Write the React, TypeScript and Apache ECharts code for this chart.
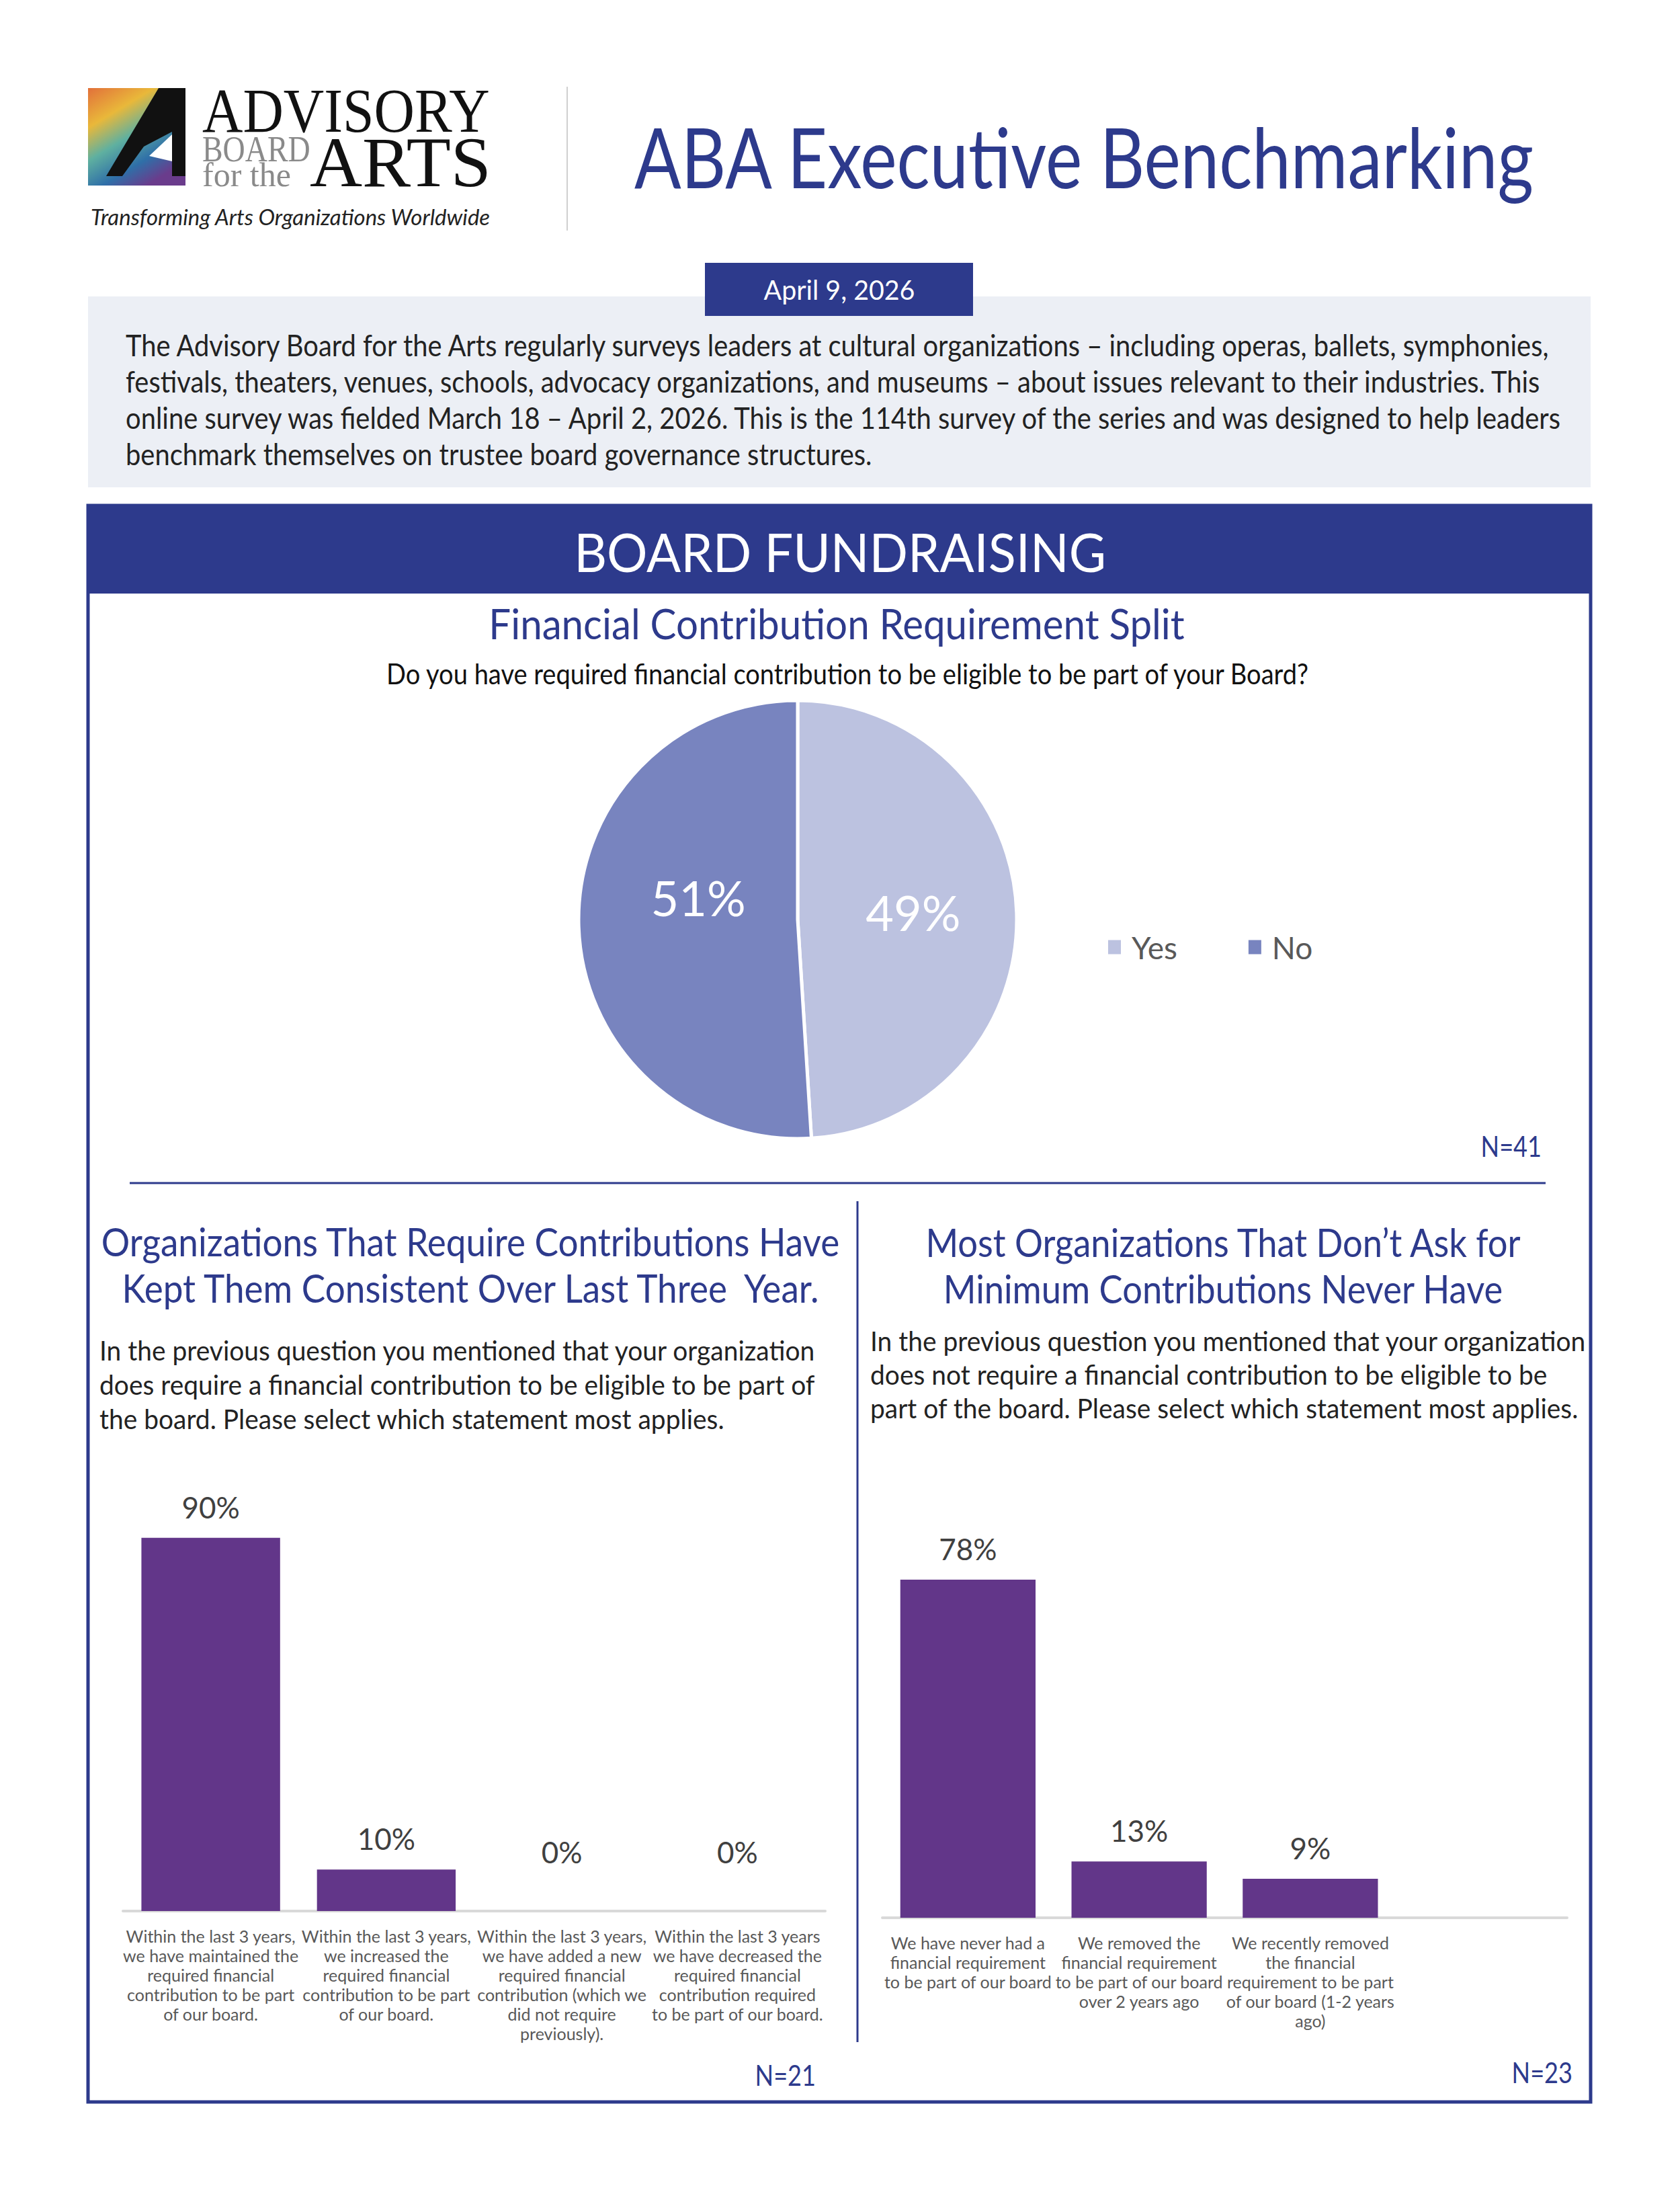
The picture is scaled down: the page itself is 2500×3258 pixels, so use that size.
import React, { useEffect, useRef } from "react";
import * as echarts from "echarts";

// ---------- data ----------
const pieCategories = ["Yes", "No"];
const pieValues = [49, 51];

const leftCategories = [
  "Within the last 3 years,\nwe have maintained the\nrequired financial\ncontribution to be part\nof our board.",
  "Within the last 3 years,\nwe increased the\nrequired financial\ncontribution to be part\nof our board.",
  "Within the last 3 years,\nwe have added a new\nrequired financial\ncontribution (which we\ndid not require\npreviously).",
  "Within the last 3 years\nwe have decreased the\nrequired financial\ncontribution required\nto be part of our board.",
];
const leftValues = [90, 10, 0, 0];

const rightCategories = [
  "We have never had a\nfinancial requirement\nto be part of our board",
  "We removed the\nfinancial requirement\nto be part of our board\nover 2 years ago",
  "We recently removed\nthe financial\nrequirement to be part\nof our board (1-2 years\nago)",
  "",
];
const rightValues: (number | null)[] = [78, 13, 9, null];

const introLines = [
  "The Advisory Board for the Arts regularly surveys leaders at cultural organizations \u2013 including operas, ballets, symphonies,",
  "festivals, theaters, venues, schools, advocacy organizations, and museums \u2013 about issues relevant to their industries. This",
  "online survey was fielded March 18 \u2013 April 2, 2026. This is the 114th survey of the series and was designed to help leaders",
  "benchmark themselves on trustee board governance structures.",
];
const leftTitleLines = [
  "Organizations That Require Contributions Have",
  "Kept Them Consistent Over Last Three  Year.",
];
const rightTitleLines = [
  "Most Organizations That Don\u2019t Ask for",
  "Minimum Contributions Never Have",
];
const leftQuestionLines = [
  "In the previous question you mentioned that your organization",
  "does require a financial contribution to be eligible to be part of",
  "the board. Please select which statement most applies.",
];
const rightQuestionLines = [
  "In the previous question you mentioned that your organization",
  "does not require a financial contribution to be eligible to be",
  "part of the board. Please select which statement most applies.",
];
const pageTitle = "ABA Executive Benchmarking";
const dateText = "April 9, 2026";
const sectionTitle = "BOARD FUNDRAISING";
const pieTitle = "Financial Contribution Requirement Split";
const pieQuestion = "Do you have required financial contribution to be eligible to be part of your Board?";
const nPie = "N=41";
const nLeft = "N=21";
const nRight = "N=23";

// ---------- styles ----------
const NAVY = "#2d3a8c";
const PURPLE = "#623689";
const FONT = "Lato, 'Noto Sans', sans-serif";
const SERIF = "'Liberation Serif', 'DejaVu Serif', serif";
const SX = 0.86;

function txt(
  text: string,
  x: number,
  y: number,
  size: number,
  fill: string,
  o: any = {}
) {
  const align = o.align ?? "left";
  return {
    type: "text",
    x,
    y,
    scaleX: o.sx ?? SX,
    silent: true,
    z: 10,
    style: {
      text,
      fill,
      fontSize: size,
      fontFamily: o.family ?? FONT,
      fontWeight: o.weight ?? "normal",
      fontStyle: o.style ?? "normal",
      align,
      textAlign: align,
      verticalAlign: "middle",
      textVerticalAlign: "middle",
    },
  };
}

function buildOption(): any {
  const graphics: any[] = [];

  // ----- logo -----
  graphics.push({
    type: "rect",
    shape: { x: 131, y: 131, width: 145, height: 145 },
    style: {
      fill: new echarts.graphic.LinearGradient(0, 0, 0.6, 1, [
        { offset: 0, color: "#e2703a" },
        { offset: 0.3, color: "#e9b83a" },
        { offset: 0.55, color: "#5fb0a0" },
        { offset: 0.8, color: "#2f6fa8" },
        { offset: 1, color: "#6a3c8c" },
      ]),
    },
    silent: true,
  });
  graphics.push({
    type: "polygon",
    shape: {
      points: [
        [236, 131], [276, 131], [276, 262], [256, 262], [256, 196],
        [214, 218], [182, 262], [158, 262],
      ],
    },
    style: { fill: "#111" },
    silent: true,
  });
  graphics.push({
    type: "polygon",
    shape: { points: [[256, 200], [256, 240], [222, 232]] },
    style: { fill: "#fff" },
    silent: true,
  });
  graphics.push(txt("ADVISORY", 301, 164, 94, "#111", { family: SERIF, sx: 0.89 }));
  graphics.push(txt("BOARD", 301, 222, 54, "#8a8a8a", { family: SERIF, sx: 0.85 }));
  graphics.push(txt("for the", 301, 260, 50, "#8a8a8a", { family: SERIF, sx: 1 }));
  graphics.push(txt("ARTS", 461, 241, 106, "#111", { family: SERIF, sx: 1.02 }));
  graphics.push(
    txt("Transforming Arts Organizations Worldwide", 135, 323, 32, "#222", {
      style: "italic",
      sx: 1.03,
    })
  );
  graphics.push({
    type: "line",
    shape: { x1: 844, y1: 129, x2: 844, y2: 343 },
    style: { stroke: "#d0d0d0", lineWidth: 2 },
    silent: true,
  });
  graphics.push(txt(pageTitle, 1613, 232, 124, NAVY, { align: "center", sx: 0.83 }));

  // ----- intro box -----
  graphics.push({
    type: "rect",
    shape: { x: 131, y: 441, width: 2236, height: 284 },
    style: { fill: "#eceff5" },
    silent: true,
  });
  graphics.push({
    type: "rect",
    shape: { x: 1049, y: 391, width: 399, height: 79 },
    style: { fill: NAVY },
    silent: true,
  });
  graphics.push(txt(dateText, 1249, 430, 41, "#fff", { align: "center", sx: 0.96 }));
  introLines.forEach((l, i) => {
    graphics.push(txt(l, 187, 513 + i * 54, 44, "#222", { sx: 0.907 }));
  });

  // ----- section frame -----
  graphics.push({
    type: "rect",
    shape: { x: 131, y: 752, width: 2236, height: 2375 },
    style: { fill: "none", stroke: NAVY, lineWidth: 5 },
    silent: true,
  });
  graphics.push({
    type: "rect",
    shape: { x: 131, y: 750, width: 2236, height: 133 },
    style: { fill: NAVY },
    silent: true,
  });
  graphics.push(txt(sectionTitle, 1250, 820, 80, "#fff", { align: "center", sx: 0.945 }));
  graphics.push(txt(pieTitle, 1245, 927, 62, NAVY, { align: "center", sx: 0.94 }));
  graphics.push(txt(pieQuestion, 1261, 1002, 43, "#111", { align: "center", sx: 0.885 }));
  graphics.push(txt(nPie, 2294, 1704, 42, NAVY, { align: "right" }));
  graphics.push({
    type: "line",
    shape: { x1: 193, y1: 1760, x2: 2300, y2: 1760 },
    style: { stroke: NAVY, lineWidth: 3 },
    silent: true,
  });
  graphics.push({
    type: "line",
    shape: { x1: 1276, y1: 1787, x2: 1276, y2: 3038 },
    style: { stroke: NAVY, lineWidth: 3 },
    silent: true,
  });

  leftTitleLines.forEach((l, i) =>
    graphics.push(txt(l, 700, 1847 + i * 69, 58, NAVY, { align: "center", sx: 0.915 }))
  );
  rightTitleLines.forEach((l, i) =>
    graphics.push(txt(l, 1820, 1847 + i * 69, 58, NAVY, { align: "center", sx: 0.905 }))
  );
  leftQuestionLines.forEach((l, i) =>
    graphics.push(txt(l, 148, 2009 + i * 51, 41, "#222", { sx: 0.95 }))
  );
  rightQuestionLines.forEach((l, i) =>
    graphics.push(txt(l, 1295, 1995 + i * 50, 41, "#222", { sx: 0.95 }))
  );
  graphics.push(txt(nLeft, 1214, 3086, 42, NAVY, { align: "right" }));
  graphics.push(txt(nRight, 2340, 3082, 42, NAVY, { align: "right" }));

  const catAxis = (gridIndex: number, data: string[]) => ({
    type: "category",
    gridIndex,
    data,
    axisLine: { lineStyle: { color: "#d9d9d9", width: 4 } },
    axisTick: { show: false },
    axisLabel: {
      interval: 0,
      fontSize: 25,
      lineHeight: 29,
      color: "#595959",
      fontFamily: FONT,
      margin: 22,
      align: "center",
    },
  });
  const valAxis = (gridIndex: number) => ({
    type: "value",
    gridIndex,
    min: 0,
    max: 100,
    show: false,
    splitLine: { show: false },
  });
  const barData = (vals: (number | null)[]) =>
    vals.map((v) => ({
      value: v === null ? "-" : v,
      label: { distance: v === 0 ? 66 : 24 },
    }));
  const barSeries = (idx: number, vals: (number | null)[]) => ({
    type: "bar",
    xAxisIndex: idx,
    yAxisIndex: idx,
    data: barData(vals),
    barCategoryGap: "21%",
    itemStyle: { color: PURPLE },
    label: {
      show: true,
      position: "top",
      formatter: "{c}%",
      fontSize: 44,
      color: "#404040",
      fontFamily: FONT,
    },
  });

  return {
    animation: false,
    backgroundColor: "#ffffff",
    textStyle: { fontFamily: FONT },
    legend: {
      data: pieCategories,
      left: 1642,
      top: 1381,
      icon: "rect",
      itemWidth: 21,
      itemHeight: 23,
      itemGap: 104,
      textStyle: { fontSize: 46, color: "#595959", fontFamily: FONT, padding: [0, 0, 0, 10] },
    },
    grid: [
      { left: 183, top: 2226, width: 1045, height: 617 },
      { left: 1313, top: 2208, width: 1019, height: 645 },
    ],
    xAxis: [catAxis(0, leftCategories), catAxis(1, rightCategories)],
    yAxis: [valAxis(0), valAxis(1)],
    series: [
      {
        type: "pie",
        center: [1187, 1368],
        radius: 326,
        startAngle: 90,
        clockwise: true,
        data: pieCategories.map((n, i) => ({
          name: n,
          value: pieValues[i],
          label: { offset: i === 0 ? [6, -6] : [18, -38] },
        })),
        color: ["#bcc2e0", "#7884bf"],
        itemStyle: { borderColor: "#fff", borderWidth: 5 },
        label: {
          show: true,
          position: "inside",
          formatter: "{c}%",
          fontSize: 72,
          color: "#fff",
          fontFamily: FONT,
        },
        labelLine: { show: false },
        emphasis: { disabled: true },
      },
      barSeries(0, leftValues),
      barSeries(1, rightValues),
    ],
    graphic: { elements: graphics },
  };
}

export default function App() {
  const ref = useRef<HTMLDivElement>(null);
  useEffect(() => {
    document.body.style.margin = "0";
    if (!ref.current) return;
    const chart = echarts.init(ref.current, undefined, { renderer: "svg" });
    chart.setOption(buildOption());
    return () => chart.dispose();
  }, []);
  return <div ref={ref} style={{ width: 2500, height: 3258 }} />;
}
